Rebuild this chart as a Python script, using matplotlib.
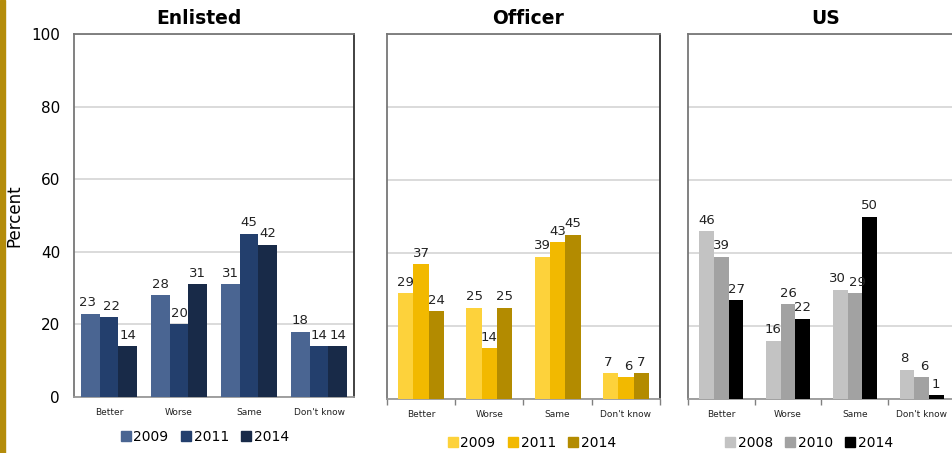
import matplotlib.pyplot as plt
import matplotlib.patches as mpatches
import numpy as np

W, H = 953, 453

categories = ['Better', 'Worse', 'Same', "Don't know"]

enlisted_years = ['2009', '2011', '2014']
enlisted_2009 = [23, 28, 31, 18]
enlisted_2011 = [22, 20, 45, 14]
enlisted_2014 = [14, 31, 42, 14]

officer_years = ['2009', '2011', '2014']
officer_2009 = [29, 25, 39, 7]
officer_2011 = [37, 14, 43, 6]
officer_2014 = [24, 25, 45, 7]

us_years = ['2008', '2010', '2014']
us_2008 = [46, 16, 30, 8]
us_2010 = [39, 26, 29, 6]
us_2014 = [27, 22, 50, 1]

panels = [
    dict(title='Enlisted', years=enlisted_years,
         series=[enlisted_2009, enlisted_2011, enlisted_2014],
         colors=['#4a6592', '#233f6d', '#182a48'],
         box=(74, 354, 34, 397), bw=0.27, title_x=199, leg=(205, 437), ticks=False),
    dict(title='Officer', years=officer_years,
         series=[officer_2009, officer_2011, officer_2014],
         colors=['#fdd23b', '#f2b900', '#b38b00'],
         box=(387, 660, 34, 399), bw=0.225, title_x=528, leg=(532, 443), ticks=True),
    dict(title='US', years=us_years,
         series=[us_2008, us_2010, us_2014],
         colors=['#c3c3c3', '#a2a2a2', '#000000'],
         box=(688, 955, 34, 399), bw=0.22, title_x=826, leg=(809, 443), ticks=True),
]

fig = plt.figure(figsize=(W / 100, H / 100), dpi=100)

# gold strip on the left edge
fig.patches.append(mpatches.Rectangle((0, 0), 5 / W, 1, transform=fig.transFigure,
                                      color='#b48c0a', zorder=0))

x = np.arange(len(categories))
for i, p in enumerate(panels):
    l, r, t, b = p['box']
    ax = fig.add_axes([l / W, (H - b) / H, (r - l) / W, (b - t) / H])
    bw = p['bw']
    first, second = p['series'][0], p['series'][1]
    for k, (vals, col) in enumerate(zip(p['series'], p['colors'])):
        xs = x + (k - 1) * bw
        ax.bar(xs, vals, width=bw, color=col, zorder=3)
        for j, (xv, v) in enumerate(zip(xs, vals)):
            # push labels of near-equal neighbouring bars apart a little
            dx = 0.0
            if abs(first[j] - second[j]) < 3:
                dx = {0: -0.04, 1: 0.04}.get(k, 0.0)
            ax.text(xv + dx, v + 1.2, str(v), ha='center', va='bottom', fontsize=9.5,
                    color='#222222', zorder=4)
    ax.set_xlim(-0.5, 3.5)
    ax.set_ylim(0, 100)
    ax.set_yticks([0, 20, 40, 60, 80, 100])
    ax.yaxis.grid(True, color='#d4d4d4', linewidth=1.2, zorder=0)
    ax.set_axisbelow(True)
    ax.set_xticks(x)
    ax.set_xticklabels(categories, fontsize=6.5, color='#222222')
    ax.tick_params(axis='x', length=0, pad=8)
    if p['ticks']:
        ax.set_xticks(np.arange(-0.5, 4.0, 1.0), minor=True)
        ax.tick_params(axis='x', which='minor', length=4, color='#808080', width=1)
    if i == 0:
        ax.tick_params(axis='y', length=0, labelsize=11, pad=10)
        ax.set_ylabel('Percent', fontsize=12, labelpad=6)
    else:
        ax.tick_params(axis='y', length=0, labelleft=False)
    for side in ['left', 'bottom', 'top']:
        ax.spines[side].set_color('#777777')
        ax.spines[side].set_linewidth(1.3)
    ax.spines['right'].set_color('#333333')
    ax.spines['right'].set_linewidth(1.3)
    ax.spines['bottom'].set_color('#999999')

    fig.text(p['title_x'] / W, 1 - 18 / H, p['title'], ha='center', va='center',
             fontsize=13.5, fontweight='bold')

    handles = [mpatches.Patch(color=c, label=y) for c, y in zip(p['colors'], p['years'])]
    lx, ly = p['leg']
    fig.legend(handles=handles, loc='center', bbox_to_anchor=(lx / W, 1 - ly / H),
               ncol=3, frameon=False, fontsize=10, handlelength=0.7, handleheight=0.7,
               handletextpad=0.2, columnspacing=0.9)

fig.savefig('out.png', dpi=100)
